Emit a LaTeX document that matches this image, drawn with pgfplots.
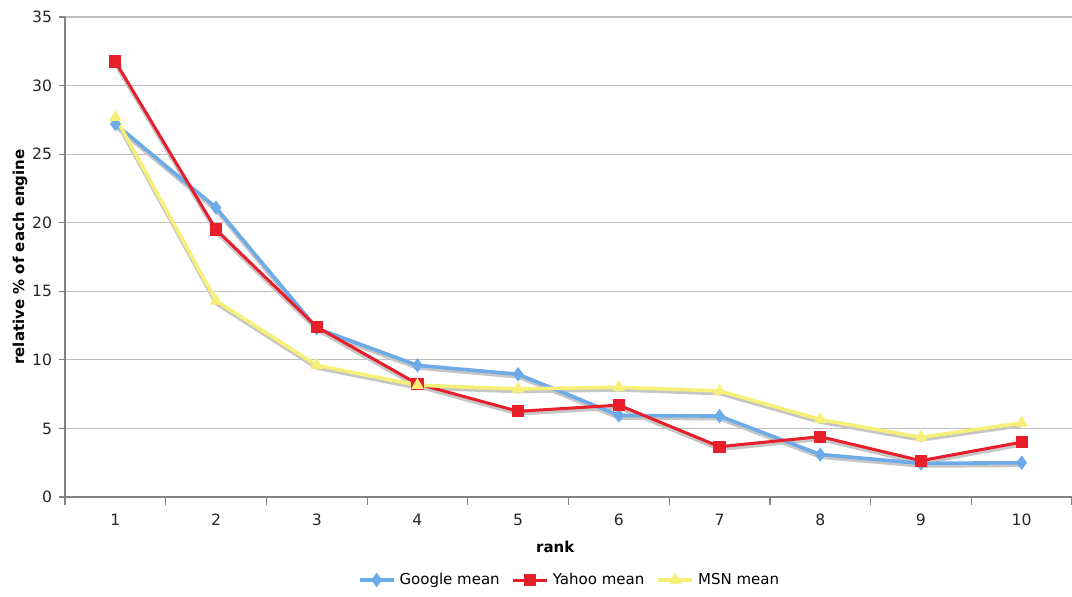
\documentclass[border=0pt]{standalone}
\usepackage{pgfplots}
\pgfplotsset{compat=1.18}
\usepackage{fontspec}
\setmainfont{DejaVu Sans}
\definecolor{gblue}{RGB}{108,170,232}
\definecolor{yred}{RGB}{232,30,42}
\definecolor{myel}{RGB}{246,240,120}
\definecolor{gridc}{RGB}{190,190,190}
\definecolor{axc}{RGB}{130,130,130}
\begin{document}
\begin{tikzpicture}
\path[use as bounding box] (-32.5pt,-49.5pt) rectangle (503.5pt,248.5pt);
\begin{axis}[
  scale only axis,
  width=503.5pt, height=240pt,
  xmin=0.5, xmax=10.5, ymin=0, ymax=35,
  axis x line*=bottom, axis y line*=left,
  axis line style={axc, line width=0.6pt, -},
  xtick={1,...,10},
  minor xtick={0.5,1.5,...,10.5},
  ytick={0,5,...,35},
  major x tick style={draw=none},
  minor x tick style={axc, line width=0.6pt},
  minor tick length=4pt,
  y tick style={axc, line width=0.6pt},
  major tick length=3pt,
  tick align=outside,
  ymajorgrids,
  major grid style={gridc, line width=0.6pt},
  /pgf/number format/assume math mode=true,
  tick label style={font=\fontsize{7.8}{9}\selectfont, text=black!85},
  xticklabel style={yshift=-2pt},
  xlabel={\textbf{rank}},
  ylabel={\textbf{relative \% of each engine}},
  label style={font=\fontsize{7.5}{9}\selectfont},
  xlabel style={at={(axis description cs:0.487,0)}, anchor=center, yshift=-25pt},
  ylabel style={at={(axis description cs:-0.0447,0.5)}, anchor=center},
  legend style={at={(axis description cs:0.488,0)}, xshift=7pt, yshift=-41.5pt, anchor=center,
    draw=none, legend columns=3, font=\fontsize{7.5}{9}\selectfont,
    /tikz/every even column/.append style={column sep=4pt}},
  legend cell align=left,
]
% shadows
\addplot[gray!45, line width=1.8pt, yshift=-1.3pt, forget plot] coordinates {(1,27.2)(2,21.1)(3,12.3)(4,9.6)(5,8.95)(6,5.95)(7,5.9)(8,3.1)(9,2.45)(10,2.5)};
\addplot[gray!45, line width=1.8pt, yshift=-1.3pt, forget plot] coordinates {(1,31.75)(2,19.5)(3,12.4)(4,8.25)(5,6.25)(6,6.7)(7,3.67)(8,4.4)(9,2.65)(10,4.0)};
\addplot[gray!45, line width=1.8pt, yshift=-1.3pt, forget plot] coordinates {(1,27.7)(2,14.3)(3,9.6)(4,8.15)(5,7.88)(6,8.0)(7,7.73)(8,5.65)(9,4.35)(10,5.4)};
% series
\addplot[gblue, line width=1.8pt, mark=diamond*, mark size=3.2pt, mark options={solid, fill=gblue, line width=0.5pt}] coordinates {(1,27.2)(2,21.1)(3,12.3)(4,9.6)(5,8.95)(6,5.95)(7,5.9)(8,3.1)(9,2.45)(10,2.5)};
\addlegendentry{Google mean}
\addplot[yred, line width=1.5pt, mark=square*, mark size=2.8pt, mark options={solid, fill=yred, line width=0.5pt}] coordinates {(1,31.75)(2,19.5)(3,12.4)(4,8.25)(5,6.25)(6,6.7)(7,3.67)(8,4.4)(9,2.65)(10,4.0)};
\addlegendentry{Yahoo mean}
\addplot[myel, line width=1.8pt, mark=triangle*, mark size=3.2pt, mark options={solid, fill=myel, line width=0.5pt}] coordinates {(1,27.7)(2,14.3)(3,9.6)(4,8.15)(5,7.88)(6,8.0)(7,7.73)(8,5.65)(9,4.35)(10,5.4)};
\addlegendentry{MSN mean}
\end{axis}
\end{tikzpicture}
\end{document}
